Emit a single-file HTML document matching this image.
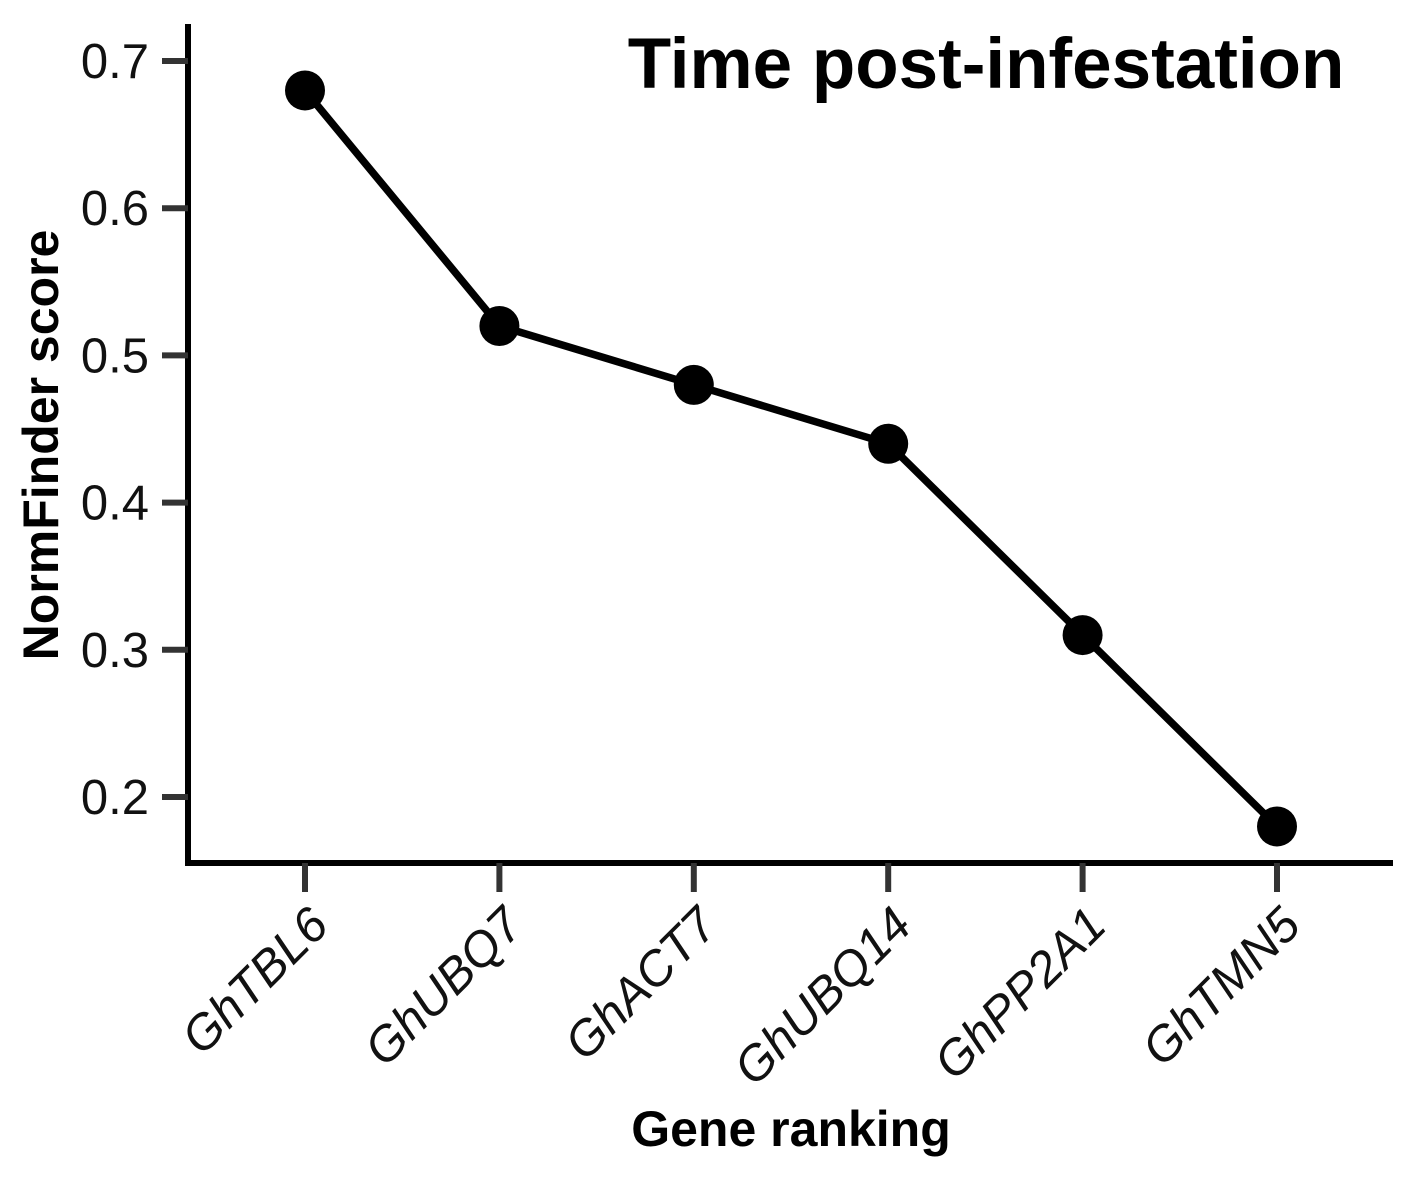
<!DOCTYPE html>
<html><head><meta charset="utf-8"><style>
html,body{margin:0;padding:0;background:#fff;}
svg{display:block;font-family:"Liberation Sans",Arial,sans-serif;}
</style></head><body>
<svg id="chart" width="1417" height="1181" viewBox="0 0 1417 1181">
<g id="axes"></g><g id="marks"></g>
<text x="986" y="88" font-size="71" font-weight="bold" text-anchor="middle">Time post-infestation</text>
<text transform="translate(58,445) rotate(-90)" font-size="50" font-weight="bold" text-anchor="middle">NormFinder score</text>
<text x="791" y="1146" font-size="50" font-weight="bold" text-anchor="middle">Gene ranking</text>
</svg>
<script>
const categories=["GhTBL6","GhUBQ7","GhACT7","GhUBQ14","GhPP2A1","GhTMN5"];
const scores=[0.68,0.52,0.48,0.44,0.31,0.18];
const yTicks=[0.2,0.3,0.4,0.5,0.6,0.7];
const yTickLabels=["0.2","0.3","0.4","0.5","0.6","0.7"];
const NS="http://www.w3.org/2000/svg";
function yS(v){return 797-(v-0.2)/0.5*736;}
function xS(i){return 305+i*194.4;}
function mk(t,a,p){const e=document.createElementNS(NS,t);for(const k in a)e.setAttribute(k,a[k]);p.appendChild(e);return e;}
const axes=document.getElementById('axes'),marks=document.getElementById('marks');
let e=mk('line',{x1:188,y1:24,x2:188,y2:866,stroke:'#000','stroke-width':6},axes);


e=mk('line',{x1:185,y1:863,x2:1393,y2:863,stroke:'#000','stroke-width':6},axes);


yTicks.forEach((v,i)=>{
 const t=mk('line',{x1:162,y1:yS(v),x2:188,y2:yS(v),stroke:'#333','stroke-width':6},axes);
 
 
 const l=mk('text',{x:149,y:yS(v)+17,'font-size':49,'text-anchor':'end',fill:'#111'},axes);
 l.textContent=yTickLabels[i];
 
 
});
categories.forEach((c,i)=>{
 const x=xS(i);
 const t=mk('line',{x1:x,y1:863,x2:x,y2:892,stroke:'#333','stroke-width':6},axes);
 
 
 const l=mk('text',{transform:`translate(${x+26},${928}) rotate(-45)`,'font-size':49,'font-style':'italic','text-anchor':'end',fill:'#111'},axes);
 l.textContent=c;
 
 
});
const pts=scores.map((v,i)=>xS(i)+','+yS(v)).join(' ');
const pl=mk('polyline',{points:pts,fill:'none',stroke:'#000','stroke-width':7.5,'stroke-linejoin':'round'},marks);


scores.forEach((v,i)=>{
 const c=mk('circle',{cx:xS(i),cy:yS(v),r:20,fill:'#000'},marks);
 
 
});
</script>
</body></html>
